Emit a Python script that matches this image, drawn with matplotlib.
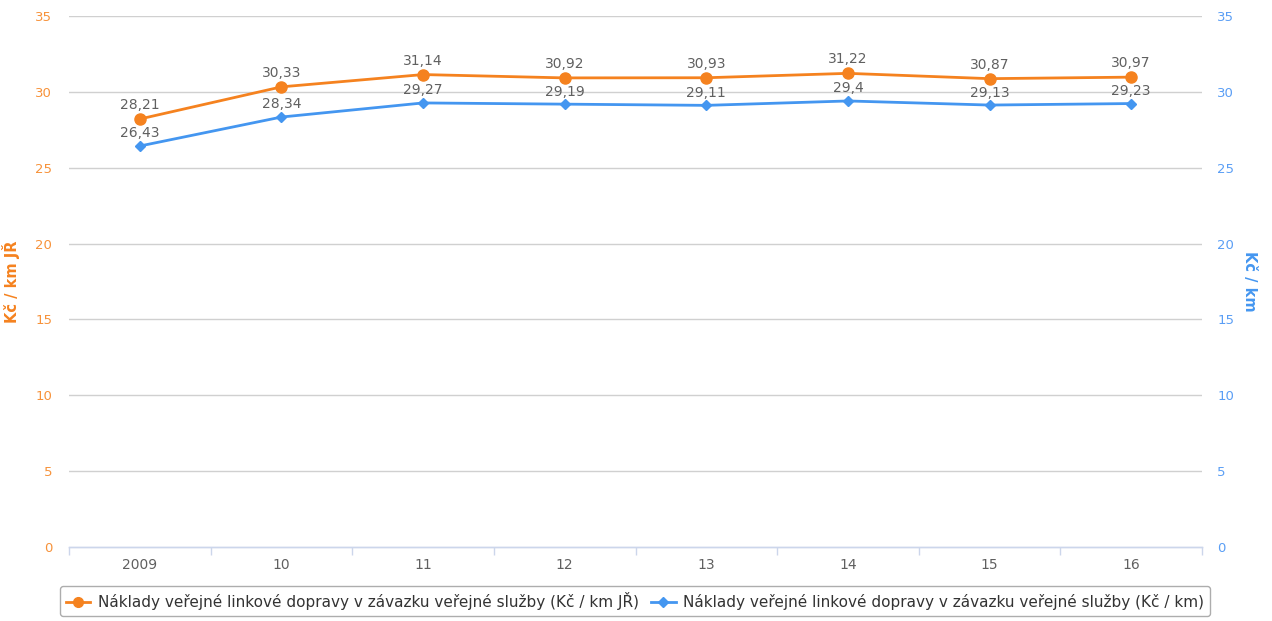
import matplotlib
matplotlib.use("Agg")
import matplotlib.pyplot as plt
from matplotlib.lines import Line2D

categories = ["2009", "10", "11", "12", "13", "14", "15", "16"]
naklady_jr = [28.21, 30.33, 31.14, 30.92, 30.93, 31.22, 30.87, 30.97]
naklady_km = [26.43, 28.34, 29.27, 29.19, 29.11, 29.40, 29.13, 29.23]
label_jr = "Náklady veřejné linkové dopravy v závazku veřejné služby (Kč / km JŘ)"
label_km = "Náklady veřejné linkové dopravy v závazku veřejné služby (Kč / km)"
yticks = [0, 5, 10, 15, 20, 25, 30, 35]

ORANGE = "#f5821f"
ORANGE_T = "#f7923a"
BLUE = "#4496f0"
BLUE_T = "#5a9ef5"
GRAY = "#606060"
GRID = "#d0d0d0"
AXIS = "#ccd6eb"

plt.rcParams["font.family"] = ["DejaVu Sans"]

fig = plt.figure(figsize=(12.72, 6.21), dpi=100)
ax = fig.add_axes([69/1272, 1-547/621, (1202-69)/1272, (547-16)/621])
ax2 = ax.twinx()

x = list(range(len(categories)))
for a in (ax, ax2):
    a.set_xlim(-0.5, len(categories)-0.5)
    a.set_ylim(0, 35)
    a.set_yticks(yticks)
    for s in ["top", "right", "left"]:
        a.spines[s].set_visible(False)
    a.spines["bottom"].set_color(AXIS)
    a.spines["bottom"].set_linewidth(1)

for t in yticks[1:]:
    ax.axhline(t, color=GRID, lw=1, zorder=0)

ax.tick_params(axis="y", length=0, pad=12, labelsize=9.5, labelcolor=ORANGE_T)
ax2.tick_params(axis="y", length=0, pad=11, labelsize=9.5, labelcolor=BLUE_T)

ax.set_xticks(x)
ax.set_xticklabels(categories)
ax.tick_params(axis="x", which="major", length=0, pad=8, labelsize=10, labelcolor=GRAY)
ax.set_xticks([i - 0.5 for i in range(len(categories)+1)], minor=True)
ax.tick_params(axis="x", which="minor", length=6, color=AXIS, width=1)
ax2.tick_params(axis="x", which="both", length=0)

ax.plot(x, naklady_jr, color=ORANGE, lw=2, marker="o", ms=8, zorder=3, clip_on=False)
ax2.plot(x, naklady_km, color=BLUE, lw=2, marker="D", ms=5.5, zorder=3, clip_on=False)

for xi, v in zip(x, naklady_jr):
    ax.annotate(f"{v:.2f}".replace(".", ","), (xi, v), xytext=(0, 5), textcoords="offset points",
                ha="center", va="bottom", fontsize=10, color=GRAY)
for xi, v in zip(x, naklady_km):
    ax2.annotate(f"{v:.2f}".rstrip("0").replace(".", ","), (xi, v), xytext=(0, 4), textcoords="offset points",
                 ha="center", va="bottom", fontsize=10, color=GRAY)

ax.set_ylabel("Kč / km JŘ", color=ORANGE, fontsize=10.5, fontweight="bold")
ax.yaxis.set_label_coords((20-69)/1133, 0.5)
ax2.set_ylabel("Kč / km", color=BLUE, fontsize=10.5, fontweight="bold", rotation=-90, va="center")
ax2.yaxis.set_label_coords((1250-69)/1133, 0.5)

handles = [Line2D([], [], color=ORANGE, lw=2, marker="o", ms=7),
           Line2D([], [], color=BLUE, lw=2, marker="D", ms=5)]
leg = fig.legend(handles, [label_jr, label_km], loc="center", bbox_to_anchor=(635/1272, 1-601/621),
                 ncol=2, fontsize=11, frameon=True, fancybox=True, handlelength=1.6,
                 handletextpad=0.5, columnspacing=0.8, borderpad=0.4, labelcolor="#333333")
leg.get_frame().set_edgecolor("#999999")
leg.get_frame().set_linewidth(1)

fig.savefig("out.png", dpi=100)
